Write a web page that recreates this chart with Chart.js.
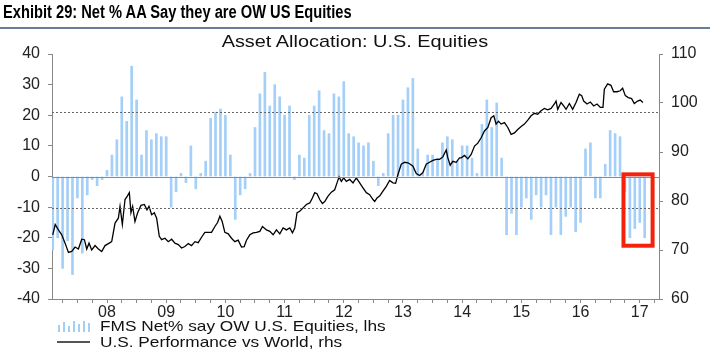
<!DOCTYPE html>
<html>
<head>
<meta charset="utf-8">
<script src="https://cdn.jsdelivr.net/npm/chart.js@4.4.1/dist/chart.umd.min.js"></script>
<style>
html,body{margin:0;padding:0;background:#fff;}
#wrap{position:relative;width:710px;height:356px;overflow:hidden;font-family:"Liberation Sans",Arial,sans-serif;color:#111;}
#exhibit{position:absolute;left:3px;top:2px;font-family:"Liberation Sans Narrow","Arial Narrow","Liberation Sans",sans-serif;font-weight:bold;font-size:18px;white-space:nowrap;color:#000;transform:scaleX(0.815);transform-origin:left top;}
#rule{position:absolute;left:0;top:27px;width:710px;height:2px;background:#6b7d96;}
#sub{position:absolute;left:0;width:710px;top:32px;text-align:center;font-size:17px;white-space:nowrap;}
#sub span{display:inline-block;transform:scaleX(1.17);}
canvas{position:absolute;left:0;top:0;}
.lg{position:absolute;left:57px;height:16px;white-space:nowrap;font-size:15px;}
.lg .txt{position:absolute;left:43px;top:-1px;transform:scaleX(1.15);transform-origin:left center;}
.bars{position:absolute;left:0;top:2px;width:33px;height:12px;}
.bars i{position:absolute;bottom:0;width:2px;background:#a3cff7;}
.lline{position:absolute;left:0;top:7px;width:33px;height:2px;background:#555;}
</style>
</head>
<body>
<div id="wrap">
  <canvas id="c" width="710" height="356"></canvas>
  <div id="exhibit">Exhibit 29: Net % AA Say they are OW US Equities</div>
  <div id="rule"></div>
  <div id="sub"><span>Asset Allocation: U.S. Equities</span></div>
  <div class="lg" style="top:318px;">
    <div class="bars"><i style="left:1px;height:7px"></i><i style="left:6px;height:10px"></i><i style="left:11px;height:6px"></i><i style="left:16px;height:11px"></i><i style="left:21px;height:8px"></i><i style="left:26px;height:11px"></i><i style="left:31px;height:9px"></i></div>
    <div class="txt">FMS Net% say OW U.S. Equities, lhs</div>
  </div>
  <div class="lg" style="top:334px;">
    <div class="lline"></div>
    <div class="txt">U.S. Performance vs World, rhs</div>
  </div>
</div>
<script>
// Monthly survey: Feb 2007 (index 0) ... Feb 2017 (index 120)
const firstMonth = '2007-02';
const yearLabels = ['08','09','10','11','12','13','14','15','16','17'];
const januaryIndexes = [11,23,35,47,59,71,83,95,107,119];

// FMS Net% say OW U.S. Equities (lhs), monthly
const fmsNet = [
  -24,-20,-30,-21,-32,-7,-25,-6,-1,-3,-1,2,
  7,12,26,18,36,25,7,15,12,14,13,13,
  -10,-5,1,-2,10,-4,1,5,19,21,22,20,
  7,-14,-6,-4,1,16,27,34,23,30,26,20,
  23,-1,7,6,20,23,28,15,14,27,26,31,
  14,13,11,10,11,5,-3,1,14,20,20,25,
  29,32,9,1,7,7,6,11,13,12,5,10,
  10,6,1,17,25,16,24,6,-19,-12,-19,-10,
  -7,-14,-6,-10,-6,-19,-10,-19,-13,-10,-18,-15,
  9,11,-7,-7,4,15,14,13,-5,-20,-17,-15,
  -20
];

// U.S. Performance vs World (rhs): position in months since Feb 2007, and value
const perfMonth = [
  0,0.5,1.15,1.83,2.5,3.18,3.85,4.53,5.2,5.88,6.42,6.89,7.36,7.9,8.58,9.25,9.93,10.6,11.28,11.95,
  12.63,13.3,13.64,14.11,14.65,15.12,15.53,15.86,16.2,16.67,17.21,17.89,18.56,19.1,19.51,20.05,20.59,21.06,21.6,22.07,
  22.75,23.42,24.1,24.77,25.45,26.12,26.8,27.47,28.14,28.82,29.49,30.17,30.84,31.52,32.19,32.87,33.41,33.88,34.35,34.89,
  35.57,36.24,36.92,37.59,38.27,38.81,39.28,39.95,40.63,
  41.3,41.98,42.52,43.33,44,44.68,45.35,46.03,46.7,47.37,48.05,48.59,49.06,49.53,50.07,50.75,51.42,52.1,52.64,53.11,
  53.58,54.12,54.66,55.14,55.81,56.48,57.16,57.63,58.04,58.51,58.98,59.52,60.2,60.87,61.54,62.22,62.89,63.57,64.25,64.92,
  65.26,65.73,66.27,66.94,67.62,68.29,68.97,69.51,69.98,70.65,71.33,72,72.48,73.02,73.69,74.37,75.04,75.71,76.39,77.06,
  77.74,78.41,79.09,79.76,80.1,80.57,81.11,81.79,82.46,
  82.8,83.48,84.15,84.82,85.5,86.17,86.85,87.52,88.2,88.87,89.41,89.88,90.36,90.9,91.57,92.25,92.92,93.6,94.27,94.95,
  95.62,96.3,96.97,97.65,98.32,98.99,99.67,100.34,101.02,101.69,102.03,102.37,103.04,103.58,104.06,104.73,105.4,106.08,106.75,107.23,
  107.63,108.31,108.98,109.66,110.33,111.01,111.54,111.82,112.49,113.16,113.7,114.38,115.05,115.53,116.07,116.67,117.35,117.89,118.56,119.1,
  119.64
];
const perfValue = [
  73.1,75.2,74.1,73.1,71.4,69.5,69.7,70.6,70.2,72.2,72.1,70.2,71.4,70.0,70.9,70.2,69.7,70.9,71.3,71.7,
  75.5,76.5,78.9,75.2,80.3,81.0,81.7,77.6,78.9,75.8,77.6,79.1,79.3,78.2,78.9,77.2,77.6,76.5,72.8,72.1,
  72.4,71.7,72.2,71.4,71.1,70.4,70.7,71.3,70.9,71.7,71.5,72.6,73.6,73.6,73.6,74.8,75.6,76.9,75.8,73.6,
  73.3,72.4,71.7,72.0,70.6,70.7,72.0,73.1,73.5,
  73.6,73.8,74.8,74.1,73.8,73.1,74.1,73.3,74.5,74.1,74.5,73.5,74.5,77.6,77.9,78.6,79.3,79.6,80.6,81.7,
  81.5,80.3,79.5,79.9,81.0,81.8,82.3,83.7,84.9,84.0,84.7,84.0,84.4,83.7,84.7,83.7,82.7,81.7,81.3,80.3,
  79.9,80.6,81.0,82.0,83.0,84.2,83.7,83.6,85.4,87.5,87.9,87.8,87.5,87.1,85.6,85.2,85.8,87.5,87.9,88.3,
  88.5,88.5,89.0,90.4,88.8,87.3,88.1,87.9,88.8,
  88.8,89.3,88.6,89.5,91.2,91.8,92.9,94.3,95.0,97.0,97.4,95.7,96.3,95.7,96.0,95.0,93.6,93.9,94.6,95.2,
  95.7,96.5,97.4,97.9,97.7,98.4,98.9,98.6,98.9,99.8,100.4,98.7,100.1,99.4,98.7,99.9,98.7,100.1,101.8,101.5,
  100.4,99.8,100.2,99.4,99.8,99.1,99.1,102.8,103.9,103.6,102.3,102.3,102.5,103.0,101.5,101.1,100.9,99.9,100.4,100.6,
  100.1
];

// Reference levels (lhs) and highlighted recent months
const upperBand = 21;
const lowerBand = -10.4;
const highlight = {fromMonth: 115.7, toMonth: 121.6, top: 0.7, bottom: -22.6};

const barPts = fmsNet.map((v, i) => ({x: i, y: v}));
const linePts = perfMonth.map((m, i) => ({x: m, y: perfValue[i]}));

const quarterTicks = [];
for (let m = 2; m <= 122; m += 3) quarterTicks.push(m);

const refLines = {
  id: 'refLines',
  afterDatasetsDraw(chart) {
    const {ctx, chartArea: a, scales} = chart;
    const yL = scales.yL, x = scales.x;
    ctx.save();
    ctx.strokeStyle = '#8a8a8a';
    ctx.lineWidth = 1;
    let y0 = Math.round(yL.getPixelForValue(0)) + 0.5;
    ctx.beginPath(); ctx.moveTo(a.left, y0); ctx.lineTo(a.right, y0); ctx.stroke();
    ctx.strokeStyle = '#666';
    ctx.setLineDash([2, 2]);
    [upperBand, lowerBand].forEach(v => {
      const y = Math.round(yL.getPixelForValue(v)) + 0.5;
      ctx.beginPath(); ctx.moveTo(a.left, y); ctx.lineTo(a.right, y); ctx.stroke();
    });
    ctx.setLineDash([]);
    ctx.strokeStyle = '#f4220b';
    ctx.lineWidth = 4;
    const l = x.getPixelForValue(highlight.fromMonth), r = x.getPixelForValue(highlight.toMonth);
    const t = yL.getPixelForValue(highlight.top), b = yL.getPixelForValue(highlight.bottom);
    ctx.strokeRect(l, t, r - l, b - t);
    ctx.restore();
  }
};

const tickFont = {family: '"Liberation Sans", Arial, sans-serif', size: 16};
new Chart(document.getElementById('c'), {
  type: 'bar',
  data: {
    datasets: [
      {type: 'line', data: linePts, xAxisID: 'x', yAxisID: 'yR', borderColor: '#000', borderWidth: 1.3,
       pointRadius: 0, tension: 0, order: 1},
      {type: 'bar', data: barPts, xAxisID: 'x', yAxisID: 'yL', backgroundColor: '#a3cff8',
       barThickness: 2, order: 2}
    ]
  },
  options: {
    responsive: false, animation: false,
    layout: {padding: {top: 54, bottom: 37, left: 0, right: 0}},
    plugins: {legend: {display: false}, tooltip: {enabled: false}},
    scales: {
      x: {
        type: 'linear', min: -0.15, max: 122.9, offset: false,
        afterBuildTicks: s => { s.ticks = quarterTicks.map(v => ({value: v})); },
        afterFit: s => { s.height = 20; },
        ticks: {autoSkip: false, maxRotation: 0, padding: 0, color: '#222', font: tickFont,
          callback: v => { const k = januaryIndexes.indexOf(v); return k >= 0 ? yearLabels[k] : ''; }},
        grid: {drawOnChartArea: false, drawTicks: true, tickLength: 4, color: '#888', offset: false},
        border: {display: true, color: '#888'}
      },
      yL: {
        position: 'left', min: -40, max: 40,
        afterFit: s => { s.width = 52; },
        ticks: {stepSize: 10, padding: 8, color: '#222', font: tickFont},
        grid: {drawOnChartArea: false, drawTicks: true, tickLength: 4, color: '#888'},
        border: {display: true, color: '#888'}
      },
      yR: {
        position: 'right', min: 60, max: 110,
        afterFit: s => { s.width = 51; },
        ticks: {stepSize: 10, padding: 8, color: '#222', font: tickFont},
        grid: {drawOnChartArea: false, drawTicks: true, tickLength: 4, color: '#888'},
        border: {display: true, color: '#888'}
      }
    }
  },
  plugins: [refLines]
});
</script>
</body>
</html>
